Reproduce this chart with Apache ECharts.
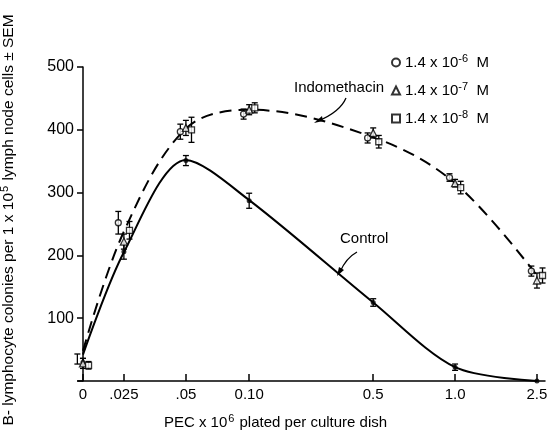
<!DOCTYPE html>
<html><head><meta charset="utf-8">
<script src="https://cdn.jsdelivr.net/npm/echarts@6/dist/echarts.min.js"></script>
<style>html,body{margin:0;padding:0;background:#fff}#c{width:548px;height:439px}</style>
</head><body><div id="c"></div>
<script>
// categories (x tick labels) and their positions along the broken axis
const xLabels = ['0', '.025', '.05', '0.10', '0.5', '1.0', '2.5'];
const xPos = [0, 0.66, 1.66, 2.68, 4.68, 6.0, 7.32];
const yTicks = [0, 100, 200, 300, 400, 500];

// Control (filled dots) mean and SEM
const control = [30, 206, 351, 287, 125, 22, 0];
const controlErr = [6, 12, 8, 12, 6, 5, 0];
const controlFit = [42, 205, 352, 288, 125, 22, 0];

// Indomethacin concentrations
const indo6 = [35, 252, 397, 425, 387, 324, 175];   // circle 1.4e-6 M
const err6 = [8, 18, 12, 8, 8, 6, 8];
const indo7 = [28, 222, 403, 432, 395, 315, 160];   // triangle 1.4e-7 M
const err7 = [8, 12, 12, 8, 8, 6, 12];
const indo8 = [25, 240, 400, 435, 381, 308, 168];   // square 1.4e-8 M
const err8 = [6, 14, 20, 8, 10, 10, 12];
const indoFit = [48, 238, 402, 432, 388, 315, 168];

const FONT = 'Liberation Sans';
const chart = echarts.init(document.getElementById('c'));

function pts(vals, off) { return vals.map((v, i) => [xPos[i] + off, v]); }
function errs(vals, e, off) { return vals.map((v, i) => [xPos[i] + off, v, e[i]]); }

const errRender = function (params, api) {
  const x = api.value(0), y = api.value(1), e = api.value(2);
  if (!e) return null;
  const top = api.coord([x, y + e]);
  const bot = api.coord([x, y - e]);
  const w = 3;
  const st = { stroke: '#000', lineWidth: 1.3 };
  return { type: 'group', children: [
    { type: 'line', shape: { x1: top[0], y1: top[1], x2: bot[0], y2: bot[1] }, style: st },
    { type: 'line', shape: { x1: top[0] - w, y1: top[1], x2: top[0] + w, y2: top[1] }, style: st },
    { type: 'line', shape: { x1: bot[0] - w, y1: bot[1], x2: bot[0] + w, y2: bot[1] }, style: st }
  ]};
};

const hollow = { color: '#fff', borderColor: '#000', borderWidth: 1.3 };
const offs = [-0.09, 0, 0.09];
const supMap = { c6: '-6', c7: '-7', c8: '-8' };

const series = [
  { type: 'line', data: pts(controlFit, 0), smooth: 0.3, symbol: 'none', lineStyle: { color: '#000', width: 2 }, z: 1 },
  { type: 'line', data: pts(indoFit, 0), smooth: 0.35, symbol: 'none', lineStyle: { color: '#000', width: 2, type: [12, 7] }, z: 1 },
  { type: 'custom', renderItem: errRender, data: errs(control, controlErr, 0), z: 2 },
  { type: 'custom', renderItem: errRender, data: errs(indo6, err6, offs[0]), z: 2 },
  { type: 'custom', renderItem: errRender, data: errs(indo7, err7, offs[1]), z: 2 },
  { type: 'custom', renderItem: errRender, data: errs(indo8, err8, offs[2]), z: 2 },
  { type: 'scatter', data: pts(control, 0), symbol: 'circle', symbolSize: 5, itemStyle: { color: '#000' }, z: 3 },
  { name: 'c6', type: 'scatter', data: pts(indo6, offs[0]), symbol: 'circle', symbolSize: 6, itemStyle: hollow, z: 3 },
  { name: 'c7', type: 'scatter', data: pts(indo7, offs[1]), symbol: 'triangle', symbolSize: 7, itemStyle: hollow, z: 3 },
  { name: 'c8', type: 'scatter', data: pts(indo8, offs[2]), symbol: 'rect', symbolSize: 6, itemStyle: hollow, z: 3 }
];

chart.setOption({
  animation: false,
  textStyle: { fontFamily: FONT, color: '#000' },
  grid: { left: 78, right: 3, top: 67, bottom: 58, containLabel: false, outerBoundsMode: 'none' },
  xAxis: {
    type: 'value', min: -0.08, max: 7.45,
    splitLine: { show: false },
    axisLine: { lineStyle: { color: '#000', width: 1.5 } },
    axisTick: { inside: true, length: 7, customValues: xPos, lineStyle: { color: '#000', width: 1.5 } },
    axisLabel: { customValues: xPos, color: '#000', fontSize: 15, fontFamily: FONT, margin: 6,
      formatter: v => { const i = xPos.findIndex(p => Math.abs(p - v) < 1e-6); return i >= 0 ? xLabels[i] : ''; } },
    name: 'PEC x 10{s|6} plated per culture dish',
    nameLocation: 'middle', nameGap: 32,
    nameTextStyle: { fontSize: 15, fontFamily: FONT, color: '#000', padding: [0, 72, 0, 0],
      rich: { s: { fontSize: 11, fontFamily: FONT, padding: [0, 1, 8, 1] } } }
  },
  yAxis: {
    type: 'value', min: 0, max: 500, interval: 100,
    splitLine: { show: false },
    axisLine: { show: true, lineStyle: { color: '#000', width: 1.5 } },
    axisTick: { show: true, length: 6, lineStyle: { color: '#000', width: 1.5 } },
    axisLabel: { color: '#000', fontSize: 16, fontFamily: FONT, margin: 4,
      formatter: v => yTicks.indexOf(v) > 0 ? String(v) : '' },
    name: 'B- lymphocyte colonies per 1 x 10{s|5} lymph node cells \u00B1 SEM',
    nameLocation: 'middle', nameGap: 60,
    nameTextStyle: { fontSize: 15.5, fontFamily: FONT, color: '#000', padding: [0, 0, 0, 8],
      rich: { s: { fontSize: 11, fontFamily: FONT, padding: [0, 1, 8, 1] } } }
  },
  legend: {
    orient: 'vertical', left: 386, top: 48, itemGap: 11, itemWidth: 8, itemHeight: 8,
    data: [{ name: 'c6', icon: 'circle' }, { name: 'c7', icon: 'triangle' }, { name: 'c8', icon: 'rect' }],
    formatter: n => '1.4 x 10{s|' + supMap[n] + '}  M',
    textStyle: { fontSize: 15, fontFamily: FONT, color: '#000',
      rich: { s: { fontSize: 11, fontFamily: FONT, padding: [0, 0, 8, 0] } } }
  },
  graphic: [
    { type: 'text', left: 294, top: 80, style: { text: 'Indomethacin', font: '15px "' + FONT + '"', fill: '#000' } },
    { type: 'text', left: 340, top: 231, style: { text: 'Control', font: '15px "' + FONT + '"', fill: '#000' } },
    { type: 'bezierCurve', shape: { x1: 346, y1: 98, x2: 318, y2: 121, cpx1: 340, cpy1: 112 }, style: { stroke: '#000', lineWidth: 1.3, fill: null } },
    { type: 'polygon', shape: { points: [[314, 123], [322, 116], [323, 121]] }, style: { fill: '#000' } },
    { type: 'bezierCurve', shape: { x1: 357, y1: 252, x2: 340, y2: 272, cpx1: 346, cpy1: 258 }, style: { stroke: '#000', lineWidth: 1.3, fill: null } },
    { type: 'polygon', shape: { points: [[337, 276], [339, 267], [344, 270]] }, style: { fill: '#000' } }
  ],
  series: series
});
</script></body></html>
